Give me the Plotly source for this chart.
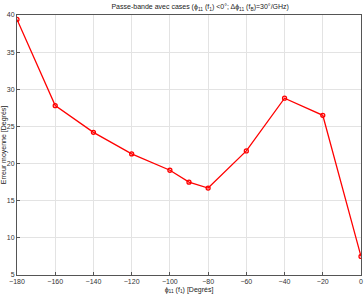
import plotly.graph_objects as go

phase = [-180, -160, -140, -120, -100, -90, -80, -60, -40, -20, 0]
erreur = [39.4, 27.8, 24.2, 21.3, 19.1, 17.5, 16.7, 21.7, 28.8, 26.5, 7.5]
x_ticks = [-180, -160, -140, -120, -100, -80, -60, -40, -20, 0]
y_ticks = [5, 10, 15, 20, 25, 30, 35, 40]

fig = go.Figure()
fig.add_trace(go.Scatter(
    x=phase, y=erreur, mode="lines+markers",
    line=dict(color="#ff0000", width=1.3),
    marker=dict(symbol="circle-open", size=4, color="#ff0000", line=dict(width=1.3)),
))

axis_common = dict(
    showgrid=True, gridcolor="#e3e3e3", gridwidth=1,
    showline=True, linecolor="#555555", linewidth=1, mirror=True,
    ticks="inside", ticklen=3, tickcolor="#555555",
    tickfont=dict(family="Liberation Sans, Arial", size=7, color="#333333"),
    zeroline=False,
)

fig.update_layout(
    width=364, height=298,
    margin=dict(l=15, r=2, t=15, b=23),
    paper_bgcolor="white", plot_bgcolor="white",
    showlegend=False,
    title=dict(
        text="Passe-bande avec cases (ϕ<sub>11</sub> (f<sub>1</sub>) <0°; Δϕ<sub>11</sub> (f<sub>B</sub>)=30°/GHz)",
        x=0.55, xanchor="center", y=0.985, yanchor="top",
        font=dict(family="Liberation Sans, Arial", size=7, color="#222222"),
    ),
    xaxis=dict(range=[-180, 0], tickvals=x_ticks,
               title=dict(text="ϕ<sub>11</sub> (f<sub>1</sub>) [Degrés]", standoff=2,
                          font=dict(family="Liberation Sans, Arial", size=7, color="#222222")),
               **axis_common),
    yaxis=dict(range=[5, 40], tickvals=y_ticks,
               title=dict(text="Erreur moyenne [Degrés]", standoff=0,
                          font=dict(family="Liberation Sans, Arial", size=7, color="#222222")),
               **axis_common),
)

fig.write_html("out.html")
